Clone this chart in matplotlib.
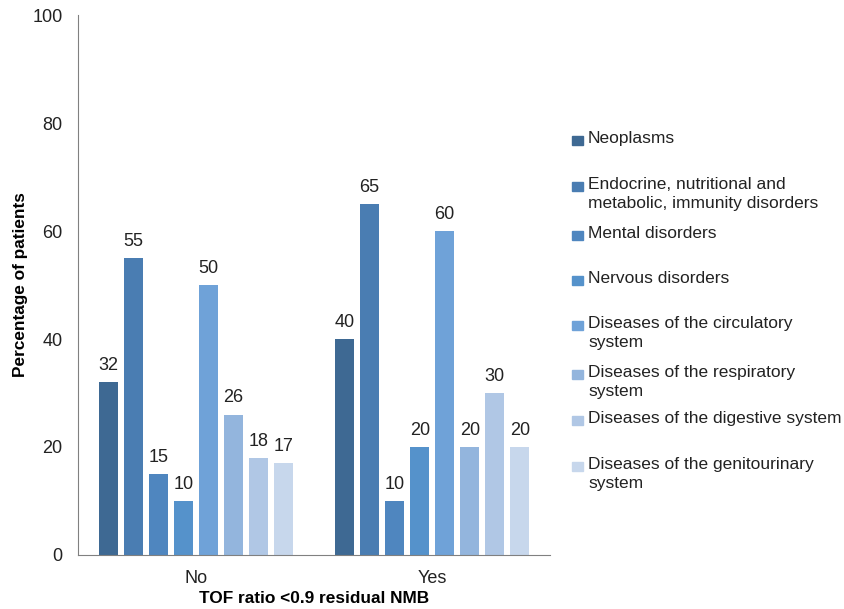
import numpy as np
import matplotlib
matplotlib.use("Agg")
from matplotlib import pyplot as plt
from matplotlib.patches import Rectangle

plt.rcParams['font.family'] = ['Liberation Sans', 'DejaVu Sans']

groups = ["No", "Yes"]
diseases = [
    "Neoplasms",
    "Endocrine, nutritional and\nmetabolic, immunity disorders",
    "Mental disorders",
    "Nervous disorders",
    "Diseases of the circulatory\nsystem",
    "Diseases of the respiratory\nsystem",
    "Diseases of the digestive system",
    "Diseases of the genitourinary\nsystem",
]
values_no = [32, 55, 15, 10, 50, 26, 18, 17]
values_yes = [40, 65, 10, 20, 60, 20, 30, 20]
colors = ["#3e6993", "#4a7db2", "#4f86bf", "#5592cb", "#6fa2d8",
          "#93b5dd", "#b0c7e5", "#c7d7ec"]

fig = plt.figure(figsize=(8.44, 6.09), dpi=100)
ax = fig.add_axes([0.0924, 0.0887, 0.5596, 0.8866])

x = np.arange(len(groups))
step = 0.106
width = 0.081
for i, name in enumerate(diseases):
    vals = [values_no[i], values_yes[i]]
    pos = x + (i - 3.5) * step
    bars = ax.bar(pos, vals, width, color=colors[i])
    for b, v in zip(bars, vals):
        ax.text(b.get_x() + b.get_width() / 2, v + 1.5, str(v),
                ha='center', va='bottom', fontsize=13, color='#222222')

ax.set_xlim(-0.5, 1.5)
ax.set_ylim(0, 100)
ax.set_yticks(range(0, 101, 20))
ax.set_xticks(x)
ax.set_xticklabels(groups)
ax.tick_params(length=0, labelsize=13, colors='#222222')
ax.tick_params(axis='x', pad=11)
ax.tick_params(axis='y', pad=11)
for s in ['top', 'right']:
    ax.spines[s].set_visible(False)
for s in ['left', 'bottom']:
    ax.spines[s].set_color('#808080')
ax.set_ylabel("Percentage of patients", fontsize=12.4, fontweight='bold')
ax.yaxis.set_label_coords(-0.106, 0.5)
ax.set_xlabel("TOF ratio <0.9 residual NMB", fontsize=12.4, fontweight='bold', labelpad=3)

# legend drawn by hand to keep the uneven spacing
entry_y = [140, 186, 235, 280, 325, 374, 420, 466]
W, H = 844, 609
for c, name, yy in zip(colors, diseases, entry_y):
    fig.patches.append(Rectangle((572 / W, 1 - (yy + 5) / H), 11 / W, 9 / H,
                                 transform=fig.transFigure, color=c))
    fig.text(588 / W, 1 - (yy - 9) / H, name, fontsize=12.5, va='top',
             ha='left', color='#222222', linespacing=1.35)

fig.savefig("out.png", dpi=100)
